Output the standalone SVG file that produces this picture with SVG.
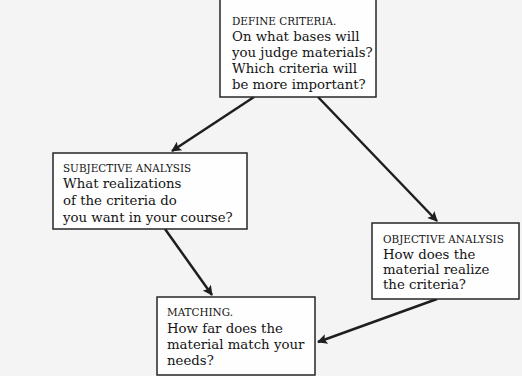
<svg xmlns="http://www.w3.org/2000/svg" width="522" height="376" viewBox="0 0 522 376">
<defs>
<style>
.box{fill:#fefefe;stroke:#262626;stroke-width:1.5}
.t{font-family:"DejaVu Serif",serif;fill:#141414;font-size:13.3px}
.h{font-family:"DejaVu Serif",serif;fill:#141414;font-size:10.4px}
.c{stroke:#1e1e1e;stroke-width:2.5;fill:none;marker-end:url(#ah)}
</style>
<marker id="ah" viewBox="0 0 10 10" refX="9" refY="5" markerWidth="5" markerHeight="4" orient="auto" markerUnits="strokeWidth">
<path d="M0,0 L10,5 L0,10 L2,5 z" fill="#1e1e1e"/>
</marker>
</defs>
<rect width="522" height="376" fill="#f4f4f4"/>
<g id="connectors">
<line class="c" x1="254" y1="97" x2="172" y2="151"/>
<line class="c" x1="318" y1="97" x2="437" y2="221"/>
<line class="c" x1="165" y1="229" x2="212" y2="295"/>
<line class="c" x1="437" y1="299" x2="318" y2="342"/>
</g>
<g id="define">
<rect class="box" x="220" y="-2" width="156" height="99"/>
<text class="h" x="232" y="25">DEFINE CRITERIA.</text>
<text class="t" x="232" y="40.5">On what bases will</text>
<text class="t" x="232" y="56.5">you judge materials?</text>
<text class="t" x="232" y="72.5">Which criteria will</text>
<text class="t" x="232" y="88.5">be more important?</text>
</g>
<g id="subjective">
<rect class="box" x="53" y="153" width="194" height="76"/>
<text class="h" x="63" y="172">SUBJECTIVE ANALYSIS</text>
<text class="t" x="63" y="188">What realizations</text>
<text class="t" x="63" y="205">of the criteria do</text>
<text class="t" x="63" y="222">you want in your course?</text>
</g>
<g id="objective">
<rect class="box" x="372" y="223" width="147" height="76"/>
<text class="h" x="383" y="243">OBJECTIVE ANALYSIS</text>
<text class="t" x="383" y="259">How does the</text>
<text class="t" x="383" y="274">material realize</text>
<text class="t" x="383" y="289">the criteria?</text>
</g>
<g id="matching">
<rect class="box" x="157" y="297" width="158" height="78"/>
<text class="h" x="167" y="316">MATCHING.</text>
<text class="t" x="167" y="333">How far does the</text>
<text class="t" x="167" y="349">material match your</text>
<text class="t" x="167" y="365">needs?</text>
</g>
</svg>
